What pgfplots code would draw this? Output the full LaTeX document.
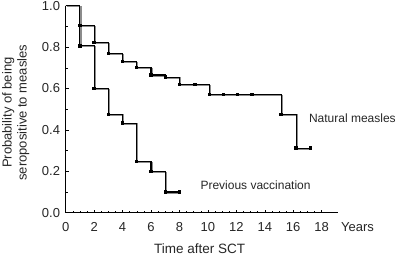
\documentclass[border=0pt]{standalone}
\usepackage{pgfplots}
\pgfplotsset{compat=1.18}
\usepackage{fontspec}
\setmainfont{Liberation Sans}
\begin{document}
\begin{tikzpicture}
\useasboundingbox (-65.7pt,-44.3pt) rectangle (332.3pt,212.7pt);
\begin{axis}[
  at={(0pt,0pt)}, anchor=south west,
  scale only axis, width=272.3pt, height=207pt,
  xmin=0, xmax=19.15, ymin=0, ymax=1.0,
  axis x line=bottom, axis y line=left,
  axis line style={-, line width=1.5pt, black},
  tick align=inside,
  major tick length=3pt, minor tick length=2pt,
  every tick/.style={black, line width=0.5pt},
  xtick={0,2,...,18}, minor x tick num=3,
  ytick={0,0.2,0.4,0.6,0.8,1.0}, minor y tick num=1,
  /pgf/number format/assume math mode=true,
  font=\fontsize{13}{15}\selectfont,
  xticklabel style={anchor=center, yshift=-14.6pt, text=black!85},
  yticklabel style={anchor=east, inner sep=0pt, xshift=-5.5pt, text=black!85,
     /pgf/number format/.cd, fixed, fixed zerofill, precision=1},
  clip=false,
]
% shadows
\addplot[const plot, draw=black!45, line width=1.4pt, transform canvas={xshift=0.9pt, yshift=-0.9pt}] coordinates {
 (0,1.0) (1,0.905) (2,0.822) (3,0.768) (4,0.731) (5,0.700) (6,0.665) (7,0.655) (8,0.620) (10.1,0.571) (15.15,0.476) (16.2,0.312) (17.2,0.312)};
\addplot[const plot, draw=black!45, line width=1.4pt, transform canvas={xshift=0.9pt, yshift=-0.9pt}] coordinates {
 (0,1.0) (1,0.806) (2,0.600) (3,0.476) (4,0.433) (5,0.248) (6,0.200) (7,0.100) (8,0.100)};
% natural measles
\addplot[const plot, black, line width=1.1pt, mark=square*, mark size=1.1pt, mark options={solid}] coordinates {
 (1,0.905) (2,0.822) (3,0.768) (4,0.731) (5,0.700) (6,0.665) (7,0.655) (8,0.620) (9.1,0.620) (10.1,0.571) (11.1,0.571) (12.1,0.571) (13.1,0.571) (15.15,0.476) (16.2,0.312) (17.2,0.312)};
\addplot[const plot, black, line width=1.1pt] coordinates {(0,1.0) (1,0.905)};
% previous vaccination
\addplot[const plot, black, line width=1.1pt, mark=square*, mark size=1.1pt] coordinates {
 (1,0.806) (2,0.600) (3,0.476) (4,0.433) (5,0.248) (6,0.200) (7,0.100) (8,0.100)};
\addplot[const plot, black, line width=1.1pt] coordinates {(0,1.0) (1,0.806)};
\node[anchor=west, inner sep=0pt, text=black!85, font=\fontsize{12}{14}\selectfont] at (axis cs:17.1,0.457) {Natural measles};
\node[anchor=west, inner sep=0pt, text=black!85, font=\fontsize{12}{14}\selectfont] at (axis cs:9.47,0.134) {Previous vaccination};
\node[anchor=west, inner sep=0pt, text=black!85, font=\fontsize{13}{15}\selectfont, yshift=-14.6pt] at (axis cs:19.36,0) {Years};
\node[inner sep=0pt, text=black!85, font=\fontsize{13.5}{15}\selectfont, yshift=-35.6pt] at (axis cs:9.42,0) {Time after SCT};
\end{axis}
\node[rotate=90, align=center, inner sep=0pt, text=black!85, font=\fontsize{13}{15}\selectfont] at (-50pt,100pt) {Probability of being\\seropositive to measles};
\end{tikzpicture}
\end{document}
